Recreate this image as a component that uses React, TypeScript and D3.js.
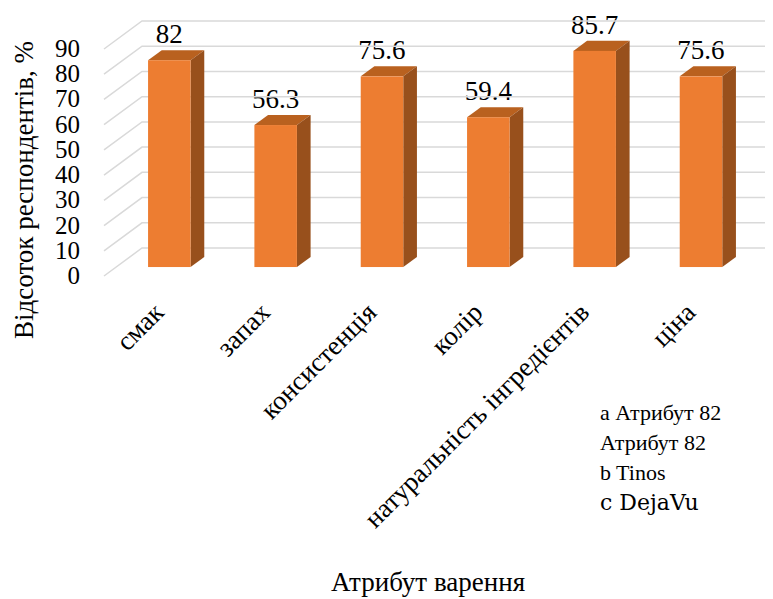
import React from "react";
import * as d3 from "d3";

// Survey results: share of respondents naming each jam attribute
const categories = [
  "смак",
  "запах",
  "консистенція",
  "колір",
  "натуральність інгредієнтів",
  "ціна",
];
const values = [82, 56.3, 75.6, 59.4, 85.7, 75.6];
const yTicks = [0, 10, 20, 30, 40, 50, 60, 70, 80, 90];

const W = 773;
const H = 599;
const F = "Liberation Serif";

// Pseudo-3D depth offsets (back wall relative to the front plane)
const DEPTH_X = 38;
const DEPTH_Y = -28;
const BAR_FRONT = 0.32;
const BAR_BACK = 0.68;

const x = d3
  .scaleBand()
  .domain(categories)
  .range([104, 742])
  .paddingInner(0.6)
  .paddingOuter(0.3);
const y = d3.scaleLinear().domain([0, 90]).range([268, 41]);

const fx = BAR_FRONT * DEPTH_X;
const fy = BAR_FRONT * DEPTH_Y;
const bx = BAR_BACK * DEPTH_X;
const by = BAR_BACK * DEPTH_Y;
const bw = x.bandwidth();
const frontX = (c) => (x(c) as number) + fx;

export default function App() {
  return (
    <svg width={W} height={H} style={{ marginLeft: -8, marginTop: -8, display: "block" }}>
      <text x={600} y={420} fontSize={22} fontFamily={F}>a Атрибут 82</text>
      <text x={600} y={450} fontSize={22} fontFamily={F}>Атрибут 82</text>
      <text x={600} y={480} fontSize={22} fontFamily="Tinos">b Tinos</text>
      <text x={600} y={510} fontSize={22} fontFamily="DejaVu Serif">c DejaVu</text>
      <text x={428} y={591} fontSize={27} fontFamily={F} textAnchor="middle">Атрибут варення</text>
      <text x={0} y={0} fontSize={27} fontFamily={F} textAnchor="middle" transform="translate(33,190) rotate(-90)">
        Відсоток респондентів, %
      </text>
      {categories.map((c) => {
        const cx = frontX(c) + bw / 2 - 4;
        const cy = 314;
        return (
          <text key={c} x={cx} y={cy} fontSize={27} fontFamily={F} textAnchor="end" transform={`rotate(-45,${cx},${cy})`}>
            {c}
          </text>
        );
      })}
      {categories.map((c, i) => (
        <text key={c} x={frontX(c) + bw / 2} y={y(values[i]) - 18} fontSize={27} fontFamily={F} textAnchor="middle">
          {values[i]}
        </text>
      ))}
      {yTicks.map((t) => (
        <text key={t} x={80} y={y(t) + 16} fontSize={25} fontFamily={F} textAnchor="end">
          {t}
        </text>
      ))}
      {yTicks.map((t) => (
        <path
          key={t}
          d={`M104,${y(t) + 8}L${104 + DEPTH_X},${y(t) + 8 + DEPTH_Y}L${W},${y(t) + 8 + DEPTH_Y}`}
          stroke="#d9d9d9"
          strokeWidth={1.5}
          fill="none"
        />
      ))}
      {categories.map((c, i) => {
        const x0 = frontX(c);
        const x1 = x0 + bw;
        const yb = y(0) + 8 + fy;
        const yt = y(values[i]) + 8 + fy;
        const dx = bx - fx;
        const dy = by - fy;
        return (
          <g key={c}>
            <path d={`M${x0},${yt}L${x0 + dx},${yt + dy}L${x1 + dx},${yt + dy}L${x1},${yt}Z`} fill="#b9611f" />
            <path d={`M${x1},${yt}L${x1 + dx},${yt + dy}L${x1 + dx},${yb + dy}L${x1},${yb}Z`} fill="#98501c" />
            <rect x={x0} y={yt} width={bw} height={yb - yt} fill="#ed7d31" />
          </g>
        );
      })}
    </svg>
  );
}
